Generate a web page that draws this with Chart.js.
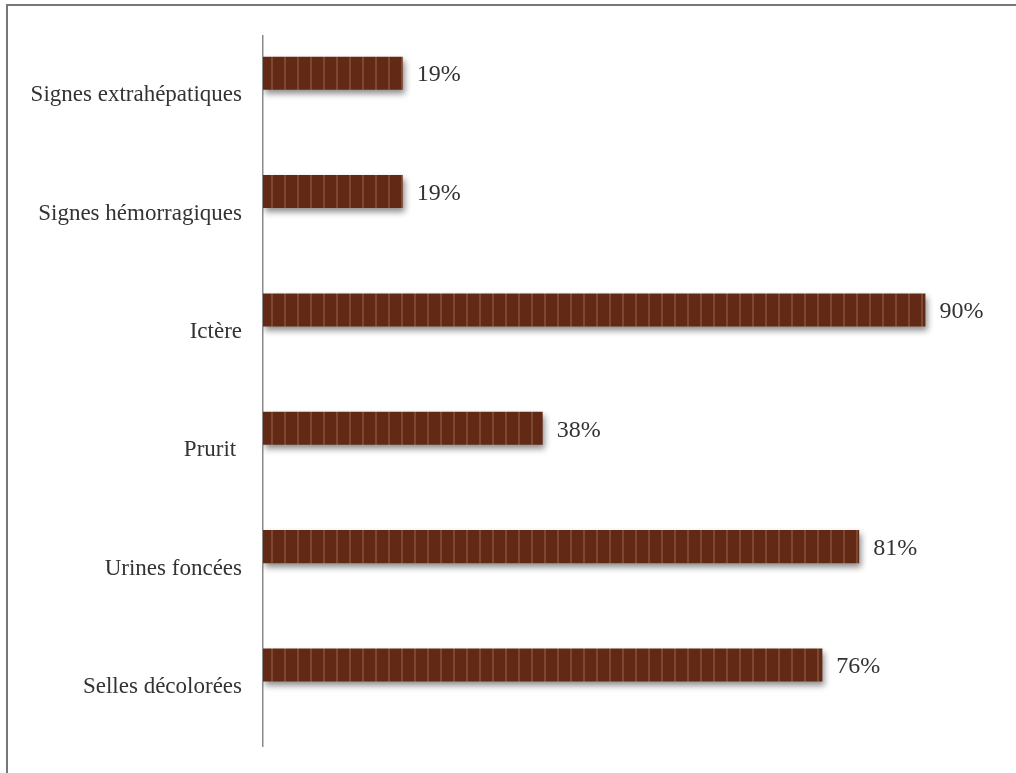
<!DOCTYPE html>
<html>
<head>
<meta charset="utf-8">
<script src="https://cdn.jsdelivr.net/npm/chart.js@4.4.1/dist/chart.umd.min.js"></script>
<style>
  html, body { margin: 0; padding: 0; background: #fff; }
  #wrap { position: relative; width: 1016px; height: 773px; overflow: hidden; }
  #frame { position: absolute; left: 6px; top: 4px; width: 1012px; height: 772px;
           border-left: 2px solid #777; border-top: 2px solid #777; }
  canvas { position: absolute; left: 0; top: 0; }
</style>
</head>
<body>
<div id="wrap">
  <div id="frame"></div>
  <canvas id="myChart" width="1016" height="773"></canvas>
</div>
<script>
// Data
const categories = ['Signes extrahépatiques', 'Signes hémorragiques', 'Ictère', 'Prurit ', 'Urines foncées', 'Selles décolorées'];
const values = [19, 19, 90, 38, 81, 76];
const spacer = [null, null, null, null, null, null];

// striped brown fill
function makePattern() {
    const p = document.createElement('canvas');
    p.width = 13;
    p.height = 4;
    const c = p.getContext('2d');
    c.fillStyle = '#622914';
    c.fillRect(0, 0, 13, 4);
    c.fillStyle = 'rgba(180,130,110,0.35)';
    c.fillRect(11, 0, 2, 4);
    return c.createPattern(p, 'repeat');
}

const shadowPlugin = {
    id: 'barShadow',
    beforeDatasetDraw(chart, args) {
        if (args.index !== 0) return;
        const ctx = chart.ctx;
        ctx.save();
        ctx.shadowColor = 'rgba(0,0,0,0.45)';
        ctx.shadowBlur = 6;
        ctx.shadowOffsetX = 2;
        ctx.shadowOffsetY = 4;
    },
    afterDatasetDraw(chart, args) {
        if (args.index !== 0) return;
        chart.ctx.restore();
    }
};

const valueLabels = {
    id: 'valueLabels',
    afterDatasetsDraw(chart) {
        const ctx = chart.ctx;
        const meta = chart.getDatasetMeta(0);
        ctx.save();
        ctx.font = '24px "Liberation Serif", serif';
        ctx.fillStyle = '#333';
        ctx.textBaseline = 'middle';
        meta.data.forEach((bar, i) => {
            ctx.fillText(values[i] + '%', bar.x + 14, bar.y + 2);
        });
        ctx.restore();
    }
};

const ctx = document.getElementById('myChart').getContext('2d');

new Chart(ctx, {
    type: 'bar',
    data: {
        labels: categories,
        datasets: [{
            data: values,
            backgroundColor: makePattern(),
            borderWidth: 0,
            barPercentage: 0.75,
            categoryPercentage: 0.744
        }, {
            data: spacer,
            barPercentage: 0.75,
            categoryPercentage: 0.744
        }]
    },
    options: {
        indexAxis: 'y',
        responsive: false,
        animation: false,
        layout: { padding: { top: 36, bottom: 24, right: 17, left: 0 } },
        plugins: {
            legend: { display: false },
            tooltip: { enabled: false }
        },
        scales: {
            x: {
                display: false,
                min: 0,
                max: 100
            },
            y: {
                grid: { display: false },
                border: { display: true, color: '#8a8a8a', width: 1.5 },
                ticks: {
                    color: '#333',
                    padding: 13,
                    font: { family: '"Liberation Serif", serif', size: 23 }
                },
                afterFit(scale) { scale.width = 263; }
            }
        }
    },
    plugins: [shadowPlugin, valueLabels]
});
</script>
</body>
</html>
